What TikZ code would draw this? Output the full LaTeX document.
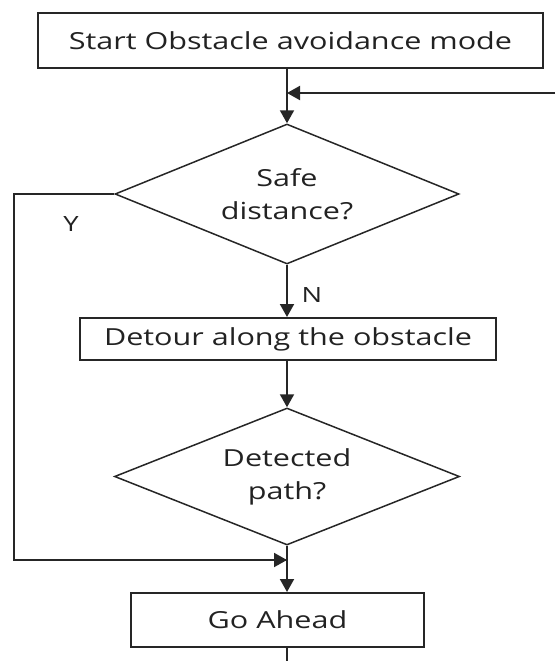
\documentclass[tikz,border=0pt]{standalone}
\usepackage{fontspec}
\setmainfont{Open Sans}[FakeStretch=1.3]
\usetikzlibrary{shapes.geometric,arrows.meta}
\definecolor{ink}{HTML}{262626}
\definecolor{txt}{HTML}{222222}

\begin{document}
\begin{tikzpicture}[x=1pt,y=1pt,
  box/.style={draw=ink, line width=2pt, rectangle, inner sep=0pt,
    font=\fontsize{23.5}{31}\selectfont, text=txt},
  decision/.style={draw=ink, line width=1.5pt, diamond, aspect=2.5, inner sep=0pt,
    align=center, font=\fontsize{23.5}{33}\selectfont, text=txt},
  arr/.style={draw=ink, line width=2pt, -{Triangle[length=13pt,width=14pt]}},
  wire/.style={draw=ink, line width=2pt},
  lbl/.style={font=\fontsize{21}{24}\selectfont, text=txt, inner sep=0pt}
]
\useasboundingbox (0,0) rectangle (555,-661);

% process steps and decisions
\node[box, minimum width=505pt, minimum height=55pt] (start) at (290.5,-40.5)
  {Start Obstacle avoidance mode};
\node[decision, minimum width=344pt, minimum height=140pt] (safe) at (287,-194)
  {Safe\\distance?};
\node[box, minimum width=416pt, minimum height=42pt] (detour) at (288,-339)
  {Detour along the obstacle};
\node[decision, minimum width=345pt, minimum height=137pt] (found) at (287,-476.5)
  {Detected\\path?};
\node[box, minimum width=293pt, minimum height=54pt] (go) at (277.5,-620)
  {Go Ahead};

% helper points for the loops
\coordinate (loopin) at (555,-93);
\coordinate (join1) at (287,-93);
\coordinate (yleft) at (14,-194);
\coordinate (ybottom) at (14,-560);
\coordinate (join2) at (287,-560);
\coordinate (exit) at (287,-661);

% connectors
\draw[arr] (start.south -| join1) -- (safe.north);
\draw[arr] (loopin) -- (join1);
\draw[arr] (safe.south) -- (detour.north -| safe.south);
\draw[arr] (detour.south -| found.north) -- (found.north);
\draw[wire] (safe.west) -- (yleft) -- (ybottom) -- (join2);
\draw[arr] (ybottom) -- (join2);
\draw[arr] (found.south) -- (go.north -| found.south);
\draw[wire] (go.south -| exit) -- (exit);

% branch labels
\node[lbl] (ylab) at (71,-224) {Y};
\node[lbl] (nlab) at (312,-295) {N};
\end{tikzpicture}
\end{document}
